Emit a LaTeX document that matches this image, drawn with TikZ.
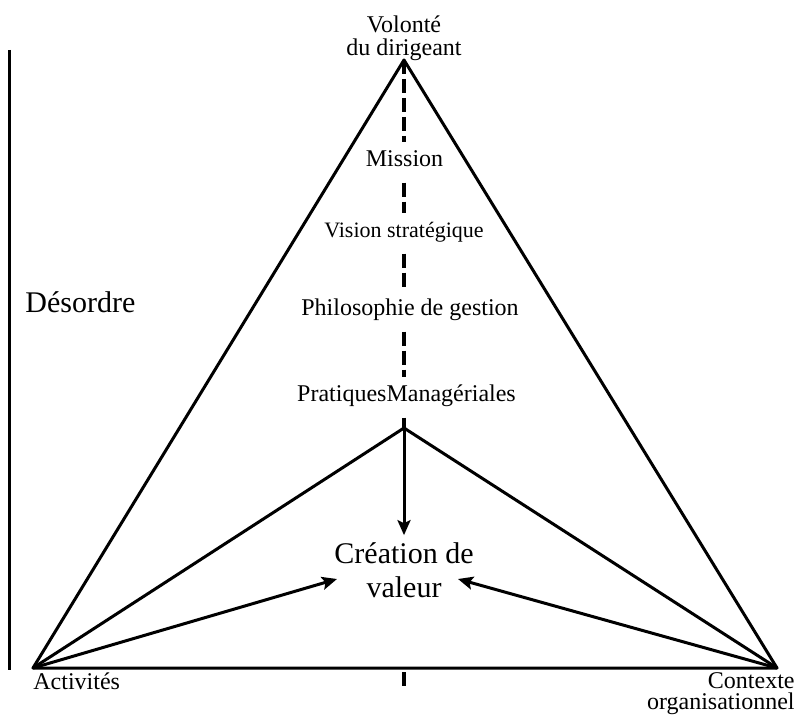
\documentclass[tikz,border=0pt]{standalone}
\usepackage{fontspec}
\setmainfont{Liberation Serif}
\usetikzlibrary{arrows.meta}

\begin{document}
\begin{tikzpicture}[x=0.5pt, y=-0.5pt,
  trait/.style={line width=1.5pt, line join=round},
  tiret/.style={line width=2.2pt, dash pattern=on 7pt off 2.5pt},
  fleche/.style={line width=1.5pt, -{Stealth[length=7.5pt, width=6.5pt, inset=1.5pt]}},
  petit/.style={font=\fontsize{12}{11.5}\selectfont, inner sep=0pt},
  etape/.style={font=\fontsize{12}{14}\selectfont, text height=0.7em, text depth=0.3em, inner xsep=0pt, inner ysep=5pt},
  grand/.style={font=\fontsize{15}{17}\selectfont}]

\useasboundingbox (0,0) rectangle (797,721);

\coordinate (v1) at (404,60);
\coordinate (v2) at (33,668);
\coordinate (v3) at (777,668);
\coordinate (v4) at (404,428);
\coordinate (v5) at (9,50);
\coordinate (v6) at (9,670);
\coordinate (v7) at (404,672);
\coordinate (v8) at (404,687);
\coordinate (v9) at (337,579);
\coordinate (v10) at (458,579);

\node[petit, align=center] (v11) at (404,38) {Volonté\\du dirigeant};
\node[etape] (v12) at (404.5,162.2) {Mission};
\node[etape, font=\fontsize{11}{14}\selectfont] (v13) at (404,233.2) {Vision stratégique};
\node[etape] (v14) at (410,311.2) {Philosophie de gestion};
\node[etape] (v15) at (406.5,397.2) {PratiquesManagériales};
\node[grand, align=center] (v16) at (404,569.8) {Création de\\valeur};
\node[grand, inner sep=0pt, anchor=base west] (v17) at (25,313) {Désordre};
\node[petit, anchor=base west] (v18) at (33,689) {Activités};
\node[petit, align=right, anchor=east, font=\fontsize{12}{10.5}\selectfont] (v19) at (795,694) {Contexte\\organisationnel};

\draw[trait] (v5) -- (v6);
\draw[trait] (v1) -- (v2) -- (v3) -- cycle;
\draw[trait] (v2) -- (v4) -- (v3);
\draw[tiret] (v1) -- (v12.north -| v1);
\draw[tiret] (v12.south -| v1) -- (v13.north -| v1);
\draw[tiret] (v13.south -| v1) -- (v14.north -| v1);
\draw[tiret] (v14.south -| v1) -- (v15.north -| v1);
\draw[tiret] (v15.south -| v1) -- (v4);
\draw[tiret] (v7) -- (v8);
\draw[fleche] (v4) -- (v16);
\draw[fleche] (v2) -- (v9);
\draw[fleche] (v3) -- (v10);
\end{tikzpicture}
\end{document}
